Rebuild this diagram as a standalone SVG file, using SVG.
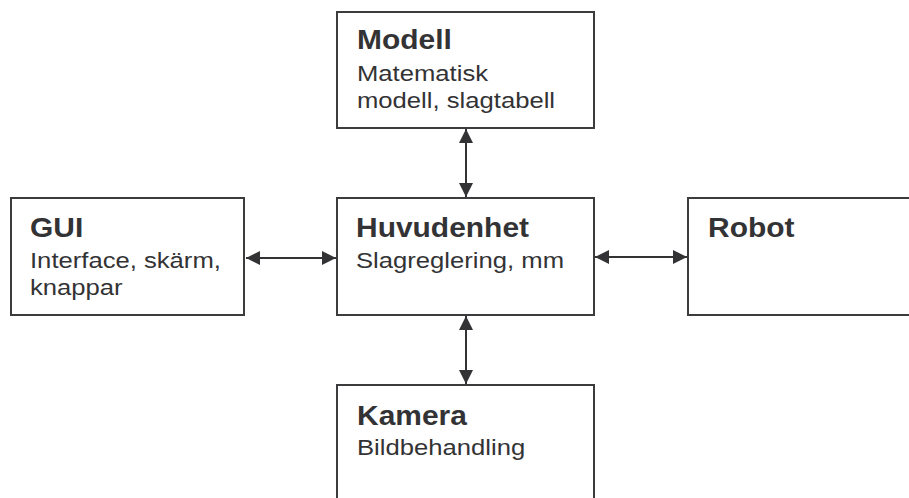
<svg xmlns="http://www.w3.org/2000/svg" width="909" height="498" viewBox="0 0 909 498">
<style>
.box{fill:#fff;stroke:#3c3c3e;stroke-width:2}
.b{font-family:"Liberation Sans",Arial,sans-serif;font-weight:bold;font-size:28px;fill:#333335}
.r{font-family:"Liberation Sans",Arial,sans-serif;font-size:22.5px;fill:#333335}
.c{stroke:#333335;stroke-width:2;fill:none;marker-start:url(#ah);marker-end:url(#ah)}
</style>
<defs>
<marker id="ah" markerUnits="userSpaceOnUse" markerWidth="14" markerHeight="14" refX="14" refY="7" orient="auto-start-reverse">
<path d="M0,0 L14,7 L0,14 z" fill="#333335"/>
</marker>
</defs>
<rect width="909" height="498" fill="#fff"/>
<g id="connectors">
<line class="c" x1="466" y1="129" x2="466" y2="197"/>
<line class="c" x1="246" y1="258" x2="336" y2="258"/>
<line class="c" x1="595" y1="257" x2="687" y2="257"/>
<line class="c" x1="466" y1="316" x2="466" y2="384"/>
</g>
<g id="modell">
<rect class="box" x="337" y="12" width="257" height="116"/>
<text class="b" transform="translate(357,49) scale(1.07,1)">Modell</text>
<text class="r" transform="translate(357,81) scale(1.14,1)">Matematisk</text>
<text class="r" transform="translate(357,107.5) scale(1.14,1)">modell, slagtabell</text>
</g>
<g id="gui">
<rect class="box" x="11" y="198" width="233" height="117"/>
<text class="b" transform="translate(30,237) scale(1.07,1)">GUI</text>
<text class="r" transform="translate(30,268) scale(1.14,1)">Interface, skärm,</text>
<text class="r" transform="translate(30,294.5) scale(1.14,1)">knappar</text>
</g>
<g id="huvudenhet">
<rect class="box" x="337" y="198" width="257" height="117"/>
<text class="b" transform="translate(356,237) scale(1.07,1)">Huvudenhet</text>
<text class="r" transform="translate(356,267.5) scale(1.14,1)">Slagreglering, mm</text>
</g>
<g id="robot">
<rect class="box" x="688" y="198" width="240" height="117"/>
<text class="b" transform="translate(708,237) scale(1.07,1)">Robot</text>
</g>
<g id="kamera">
<rect class="box" x="337" y="385" width="257" height="130"/>
<text class="b" transform="translate(357,424.5) scale(1.07,1)">Kamera</text>
<text class="r" transform="translate(357,454.5) scale(1.14,1)">Bildbehandling</text>
</g>
</svg>
